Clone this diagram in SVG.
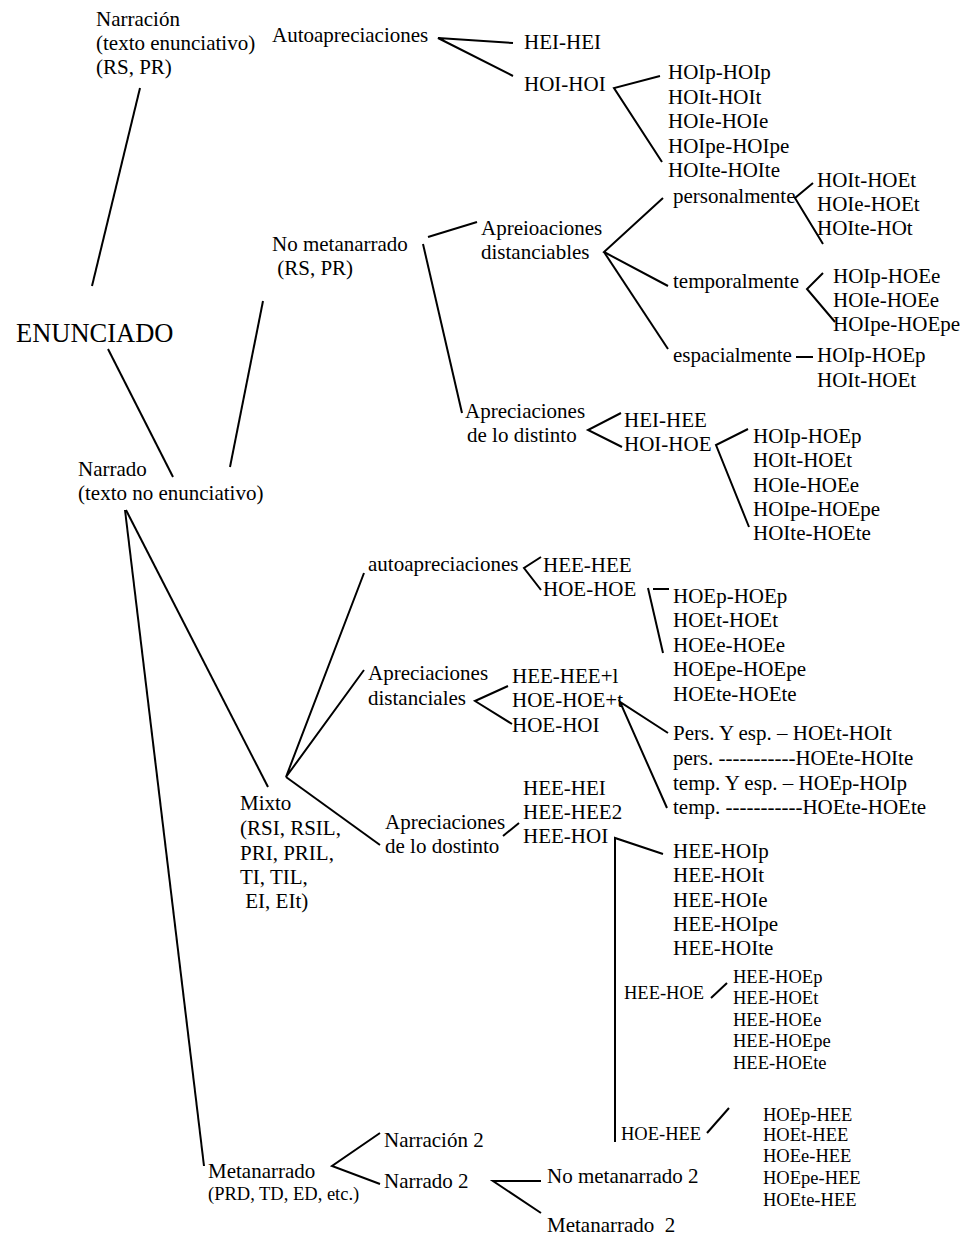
<svg xmlns="http://www.w3.org/2000/svg" width="966" height="1240" viewBox="0 0 966 1240">
<style>
text{font-family:"Liberation Serif","Times New Roman",serif;fill:#000;font-size:21px;white-space:pre}
.s{font-size:18.5px}
.big{font-size:26.5px}
#connectors line,#connectors polyline{stroke:#000;stroke-width:2;fill:none}
</style>
<rect width="966" height="1240" fill="#fff"/>
<g id="connectors">
<line x1="140" y1="88" x2="92" y2="286"/>
<polyline points="513,43 438,38 513,76"/>
<polyline points="660,76 614,88 662,162"/>
<polyline points="477,222 428,237"/>
<line x1="423" y1="244" x2="462" y2="413"/>
<line x1="263" y1="301" x2="230" y2="467"/>
<line x1="108" y1="349" x2="173" y2="477"/>
<polyline points="663,198 604,252 668,286"/>
<line x1="604" y1="252" x2="668" y2="349"/>
<polyline points="813,183 795,198 823,244"/>
<polyline points="823,273 807,289 835,322"/>
<line x1="796" y1="357" x2="813" y2="357"/>
<polyline points="621,413 588,430 622,447"/>
<polyline points="748,429 716,445 749,527"/>
<line x1="125" y1="510" x2="204" y2="1166"/>
<line x1="126" y1="510" x2="268" y2="787"/>
<polyline points="364,573 286,777 364,670"/>
<line x1="286" y1="777" x2="380" y2="845"/>
<polyline points="541,557 524,568 541,590"/>
<line x1="653" y1="589" x2="669" y2="589"/>
<line x1="648" y1="588" x2="663" y2="653"/>
<polyline points="508,686 475,701 512,724"/>
<polyline points="668,733 620,702 667,808"/>
<line x1="503" y1="836" x2="519" y2="823"/>
<polyline points="663,854 615,838 615,1142"/>
<line x1="711" y1="998" x2="727" y2="983"/>
<line x1="707" y1="1133" x2="729" y2="1108"/>
<polyline points="380,1133 332,1166 380,1184"/>
<polyline points="541,1181 493,1181 541,1213"/>
</g>
<g id="enunciado"><text class="big" x="16" y="342">ENUNCIADO</text></g>
<g id="narracion"><text x="96" y="26">Narración</text><text x="96" y="50">(texto enunciativo)</text><text x="96" y="74">(RS, PR)</text></g>
<g id="autoapreciaciones"><text x="272" y="42">Autoapreciaciones</text></g>
<g id="hei-hei"><text x="524" y="49">HEI-HEI</text></g>
<g id="hoi-hoi"><text x="524" y="91">HOI-HOI</text></g>
<g id="hoi-list"><text x="668" y="79">HOIp-HOIp</text><text x="668" y="103.5">HOIt-HOIt</text><text x="668" y="128">HOIe-HOIe</text><text x="668" y="152.5">HOIpe-HOIpe</text><text x="668" y="177">HOIte-HOIte</text></g>
<g id="personalmente"><text x="673" y="203">personalmente</text></g>
<g id="pers-list"><text x="817" y="187">HOIt-HOEt</text><text x="817" y="211">HOIe-HOEt</text><text x="817" y="235">HOIte-HOt</text></g>
<g id="no-metanarrado"><text x="272" y="251">No metanarrado</text><text x="272" y="275"> (RS, PR)</text></g>
<g id="apreioaciones"><text x="481" y="235">Apreioaciones</text><text x="481" y="259">distanciables</text></g>
<g id="temporalmente"><text x="673" y="288">temporalmente</text></g>
<g id="temp-list"><text x="833" y="283">HOIp-HOEe</text><text x="833" y="307">HOIe-HOEe</text><text x="833" y="331">HOIpe-HOEpe</text></g>
<g id="espacialmente"><text x="673" y="362">espacialmente</text></g>
<g id="esp-list"><text x="817" y="362">HOIp-HOEp</text><text x="817" y="387">HOIt-HOEt</text></g>
<g id="apreciaciones-distinto"><text x="465" y="418">Apreciaciones</text><text x="467" y="442">de lo distinto</text></g>
<g id="hei-hee"><text x="624" y="427">HEI-HEE</text></g>
<g id="hoi-hoe"><text x="624" y="451">HOI-HOE</text></g>
<g id="hoi-hoe-list"><text x="753" y="443">HOIp-HOEp</text><text x="753" y="467">HOIt-HOEt</text><text x="753" y="492">HOIe-HOEe</text><text x="753" y="516">HOIpe-HOEpe</text><text x="753" y="540">HOIte-HOEte</text></g>
<g id="narrado"><text x="78" y="476">Narrado</text><text x="78" y="500">(texto no enunciativo)</text></g>
<g id="autoapreciaciones2"><text x="368" y="571">autoapreciaciones</text></g>
<g id="hee-hee"><text x="543" y="572">HEE-HEE</text></g>
<g id="hoe-hoe"><text x="543" y="596">HOE-HOE</text></g>
<g id="hoe-list"><text x="673" y="603">HOEp-HOEp</text><text x="673" y="627">HOEt-HOEt</text><text x="673" y="652">HOEe-HOEe</text><text x="673" y="676">HOEpe-HOEpe</text><text x="673" y="701">HOEte-HOEte</text></g>
<g id="apreciaciones-distanciales"><text x="368" y="680">Apreciaciones</text><text x="368" y="705">distanciales</text></g>
<g id="hee-hee-l"><text x="512" y="683">HEE-HEE+l</text></g>
<g id="hoe-hoe-t"><text x="512" y="707">HOE-HOE+t</text></g>
<g id="hoe-hoi"><text x="512" y="732">HOE-HOI</text></g>
<g id="hoe-t-list"><text x="673" y="740">Pers. Y esp. – HOEt-HOIt</text><text x="673" y="765">pers. -----------HOEte-HOIte</text><text x="673" y="790">temp. Y esp. – HOEp-HOIp</text><text x="673" y="814">temp. -----------HOEte-HOEte</text></g>
<g id="mixto"><text x="240" y="810">Mixto</text><text x="240" y="835">(RSI, RSIL,</text><text x="240" y="860">PRI, PRIL,</text><text x="240" y="884">TI, TIL,</text><text x="240" y="908"> EI, EIt)</text></g>
<g id="apreciaciones-dostinto"><text x="385" y="829">Apreciaciones</text><text x="385" y="853">de lo dostinto</text></g>
<g id="hee-hei"><text x="523" y="795">HEE-HEI</text></g>
<g id="hee-hee2"><text x="523" y="819">HEE-HEE2</text></g>
<g id="hee-hoi"><text x="523" y="843">HEE-HOI</text></g>
<g id="hee-hoi-list"><text x="673" y="858">HEE-HOIp</text><text x="673" y="882">HEE-HOIt</text><text x="673" y="907">HEE-HOIe</text><text x="673" y="931">HEE-HOIpe</text><text x="673" y="955">HEE-HOIte</text></g>
<g id="hee-hoe"><text class="s" x="624" y="999">HEE-HOE</text></g>
<g id="hee-hoe-list"><text class="s" x="733" y="983">HEE-HOEp</text><text class="s" x="733" y="1004">HEE-HOEt</text><text class="s" x="733" y="1026">HEE-HOEe</text><text class="s" x="733" y="1047">HEE-HOEpe</text><text class="s" x="733" y="1069">HEE-HOEte</text></g>
<g id="hoe-hee"><text class="s" x="621" y="1140">HOE-HEE</text></g>
<g id="hoe-hee-list"><text class="s" x="763" y="1121">HOEp-HEE</text><text class="s" x="763" y="1141">HOEt-HEE</text><text class="s" x="763" y="1162">HOEe-HEE</text><text class="s" x="763" y="1184">HOEpe-HEE</text><text class="s" x="763" y="1206">HOEte-HEE</text></g>
<g id="metanarrado"><text x="208" y="1178">Metanarrado</text><text class="s" x="208" y="1200">(PRD, TD, ED, etc.)</text></g>
<g id="narracion2"><text x="384" y="1147">Narración 2</text></g>
<g id="narrado2"><text x="384" y="1188">Narrado 2</text></g>
<g id="no-metanarrado2"><text x="547" y="1183">No metanarrado 2</text></g>
<g id="metanarrado2"><text x="547" y="1232">Metanarrado  2</text></g>
</svg>
